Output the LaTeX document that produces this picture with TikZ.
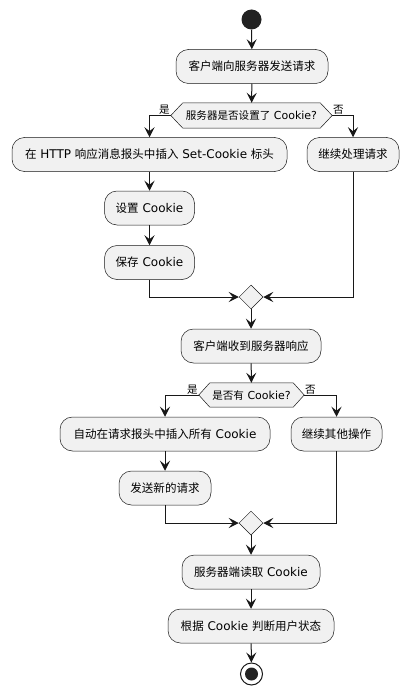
\documentclass[tikz,border=0pt]{standalone}
\usepackage{fontspec}
\setmainfont{DejaVu Sans}
\newfontfamily\cjk{Noto Sans CJK SC}[Scale=0.96]
\usetikzlibrary{arrows.meta,shapes.geometric,backgrounds}
\newcommand\zh[1]{{\cjk #1}}
\definecolor{boxfill}{HTML}{F1F1F1}
\definecolor{ink}{HTML}{181818}
\definecolor{dot}{HTML}{222222}
\begin{document}
\begin{tikzpicture}[x=1pt,y=-1pt,
  act/.style={draw=ink, line width=0.5pt, fill=boxfill, rounded corners=12.5pt,
    minimum height=34pt, inner sep=0pt, font=\fontsize{12}{14}\selectfont, text=black},
  dec/.style={minimum height=25pt, inner sep=0pt, font=\fontsize{11}{13}\selectfont, text=black},
  hexa/.style={draw=ink, line width=0.5pt, fill=boxfill},
  merge/.style={diamond, draw=ink, line width=0.5pt, fill=boxfill,
    minimum width=24pt, minimum height=24pt, inner sep=0pt},
  flow/.style={draw=ink, line width=1pt, -{Stealth[length=10pt,width=10pt,inset=4pt]}},
  lbl/.style={font=\fontsize{11}{13}\selectfont, inner sep=0.5pt, text=black}]
\useasboundingbox (0,0) rectangle (409,695);

\node[circle, fill=dot, minimum size=20pt, inner sep=0pt] (start) at (251.5,19.5) {};
\node[act, minimum width=152pt] (n1) at (252,66.5) {\zh{客户端向服务器发送请求}};
\node[dec, minimum width=161pt] (d1) at (251.5,115.5) {\zh{服务器是否设置了} Cookie?};
\node[act, minimum width=275pt] (n2) at (149.5,154.5) {\zh{在} HTTP \zh{响应消息报头中插入} Set-Cookie \zh{标头}};
\node[act, minimum width=92pt] (n3) at (353,154.5) {\zh{继续处理请求}};
\node[act, minimum width=90pt] (n4) at (149.5,208) {\zh{设置} Cookie};
\node[act, minimum width=90pt] (n5) at (149.5,262.5) {\zh{保存} Cookie};
\node[merge] (m1) at (251,297) {};
\node[act, minimum width=140pt] (n6) at (251,346) {\zh{客户端收到服务器响应}};
\node[dec, minimum width=105pt, minimum height=24pt] (d2) at (251.5,395) {\zh{是否有} Cookie?};
\node[act, minimum width=210pt] (n7) at (165,434) {\zh{自动在请求报头中插入所有} Cookie};
\node[act, minimum width=91pt] (n8) at (336.5,434) {\zh{继续其他操作}};
\node[act, minimum width=92pt] (n9) at (165,488) {\zh{发送新的请求}};
\node[merge] (m2) at (251,523) {};
\node[act, minimum width=138pt] (n10) at (251,572) {\zh{服务器端读取} Cookie};
\node[act, minimum width=166pt] (n11) at (251,626) {\zh{根据} Cookie \zh{判断用户状态}};
\node[circle, draw=ink, line width=1pt, fill=white, minimum size=22pt, inner sep=0pt,
  path picture={\fill[dot] (path picture bounding box.center) circle (6.5pt);}] (end) at (251.5,674) {};

\begin{scope}[on background layer]
\fill[white] (0,0) rectangle (409,695);
\draw[hexa] (d1.west) -- ([xshift=12pt]d1.north west) -- ([xshift=-12pt]d1.north east)
  -- (d1.east) -- ([xshift=-12pt]d1.south east) -- ([xshift=12pt]d1.south west) -- cycle;
\draw[hexa] (d2.west) -- ([xshift=11pt]d2.north west) -- ([xshift=-11pt]d2.north east)
  -- (d2.east) -- ([xshift=-11pt]d2.south east) -- ([xshift=11pt]d2.south west) -- cycle;
\end{scope}

\draw[flow] (start) -- (n1);
\draw[flow] (n1) -- (d1);
\draw[flow] (d1.west) node[lbl, anchor=south east] (y1) {\zh{是}} -| (n2.north);
\draw[flow] (d1.east) node[lbl, anchor=south west] (f1) {\zh{否}} -| (n3.north);
\draw[flow] (n2) -- (n4);
\draw[flow] (n4) -- (n5);
\draw[flow] (n5.south) |- (m1.west);
\draw[flow] (n3.south) |- (m1.east);
\draw[flow] (m1) -- (n6);
\draw[flow] (n6) -- (d2);
\draw[flow] (d2.west) node[lbl, anchor=south east] (y2) {\zh{是}} -| (n7.north);
\draw[flow] (d2.east) node[lbl, anchor=south west] (f2) {\zh{否}} -| (n8.north);
\draw[flow] (n7) -- (n9);
\draw[flow] (n9.south) |- (m2.west);
\draw[flow] (n8.south) |- (m2.east);
\draw[flow] (m2) -- (n10);
\draw[flow] (n10) -- (n11);
\draw[flow] (n11) -- (end);
\end{tikzpicture}
\end{document}
